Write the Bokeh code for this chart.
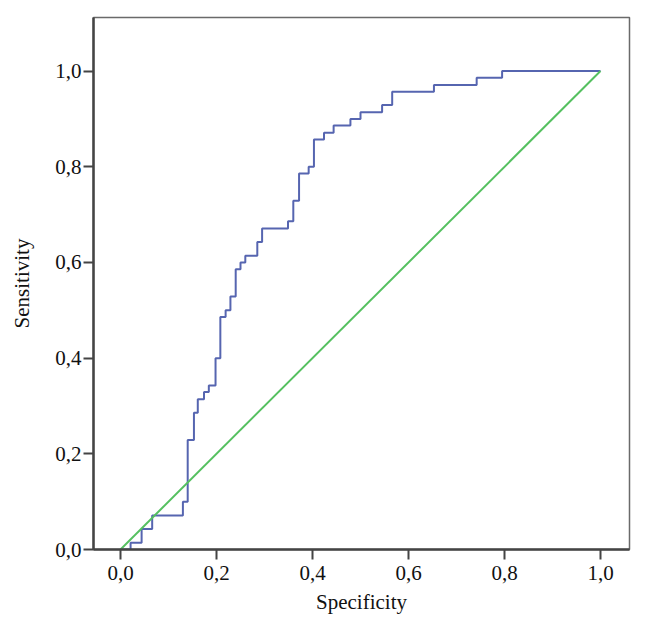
from bokeh.plotting import figure
from bokeh.models import FixedTicker, Range1d
from bokeh.embed import file_html
from bokeh.resources import INLINE

# ROC curve (step corners: x = specificity axis value, y = sensitivity)
spec = [0.0, 0.021, 0.044, 0.066, 0.130, 0.140, 0.153, 0.161, 0.174, 0.184,
        0.198, 0.208, 0.219, 0.229, 0.240, 0.250, 0.260, 0.285, 0.295, 0.349,
        0.360, 0.372, 0.392, 0.403, 0.424, 0.444, 0.479, 0.500, 0.545, 0.566,
        0.653, 0.742, 0.795, 1.0]
sens = [0.0, 0.014, 0.043, 0.071, 0.100, 0.229, 0.286, 0.314, 0.329, 0.343,
        0.400, 0.486, 0.500, 0.529, 0.586, 0.600, 0.614, 0.643, 0.671, 0.686,
        0.729, 0.786, 0.800, 0.857, 0.871, 0.886, 0.900, 0.914, 0.929, 0.957,
        0.971, 0.986, 1.000, 1.000]
ref_x = [0.0, 1.0]
ref_y = [0.0, 1.0]

ticks = [0.0, 0.2, 0.4, 0.6, 0.8, 1.0]
tick_labels = ["0,0", "0,2", "0,4", "0,6", "0,8", "1,0"]

FONT = "Liberation Serif"

p = figure(width=631, height=616, output_backend="svg", toolbar_location=None,
           x_range=Range1d(-0.05625, 1.0604), y_range=Range1d(0.0, 1.112),
           min_border_left=93, min_border_right=2, min_border_top=17,
           min_border_bottom=62)
p.background_fill_color = "white"
p.border_fill_color = "white"
p.outline_line_color = "#6a6a6a"
p.outline_line_width = 1.5
p.xgrid.visible = False
p.ygrid.visible = False

p.step(spec, sens, mode="after", line_color="#5665b0", line_width=2)
p.line(ref_x, ref_y, line_color="#55c060", line_width=2)

for ax in (p.xaxis[0], p.yaxis[0]):
    ax.ticker = FixedTicker(ticks=ticks)
    ax.major_label_overrides = {t: l for t, l in zip(ticks, tick_labels)}
    ax.axis_line_color = "#444444"
    ax.axis_line_width = 2.5
    ax.major_tick_line_color = "#444444"
    ax.major_tick_line_width = 2
    ax.major_tick_out = 10
    ax.major_tick_in = 0
    ax.minor_tick_line_color = None
    ax.major_label_text_font = FONT
    ax.major_label_text_font_size = "21px"
    ax.major_label_text_color = "#111111"
    ax.axis_label_text_font = FONT
    ax.axis_label_text_font_size = "21px"
    ax.axis_label_text_font_style = "normal"
    ax.axis_label_text_color = "#111111"

p.xaxis.axis_label = "Specificity"
p.yaxis.axis_label = "Sensitivity"
p.xaxis.major_label_standoff = 6
p.yaxis.major_label_standoff = 2
p.xaxis.axis_label_standoff = 7
p.yaxis.axis_label_standoff = 18

open("out.html", "w").write(file_html(p, INLINE))
